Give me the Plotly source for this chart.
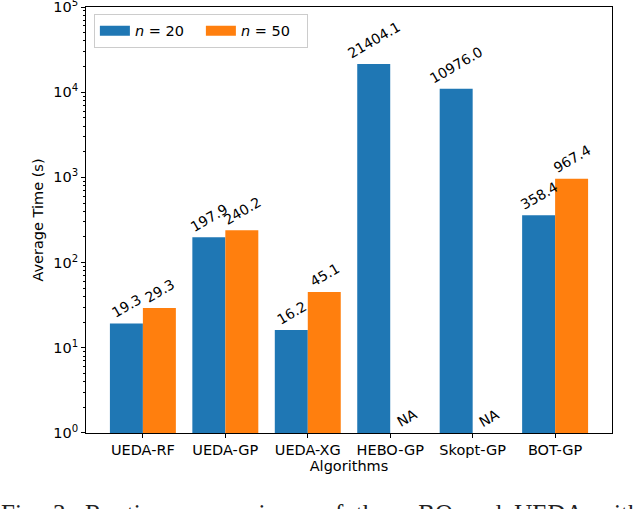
import math
import plotly.graph_objects as go

categories = ["UEDA-RF", "UEDA-GP", "UEDA-XG", "HEBO-GP", "Skopt-GP", "BOT-GP"]
n20 = [19.3, 197.9, 16.2, 21404.1, 10976.0, 358.4]
n50 = [29.3, 240.2, 45.1, None, None, 967.4]
series_names = ["<i>n</i> = 20", "<i>n</i> = 50"]
colors = ["#1f77b4", "#ff7f0e"]
ytick_vals = [1, 10, 100, 1000, 10000, 100000]
ytick_text = ["10<sup>%d</sup>" % i for i in range(6)]
caption_words = ["Fig.", "3:", "Runtime", "comparisons", "of", "three", "BO", "and", "UEDA", "with"]

FONT = "DejaVu Sans"
FS = 14.5
W = 0.4
xs = list(range(len(categories)))

fig = go.Figure()
for vals, name, col, off in [(n20, series_names[0], colors[0], -W / 2),
                             (n50, series_names[1], colors[1], W / 2)]:
    fig.add_trace(go.Bar(
        x=[x + off for x in xs], y=vals, width=W, name=name, showlegend=False,
        marker=dict(color=col, line=dict(width=0)),
    ))
# legend entries drawn as wide swatches
for name, col in zip(series_names, colors):
    fig.add_trace(go.Scatter(
        x=[None], y=[None], mode="lines", name=name,
        line=dict(color=col, width=11),
    ))

annotations = []
for vals, off in [(n20, -W / 2), (n50, W / 2)]:
    for x, v in zip(xs, vals):
        if v is None:
            txt, yy = "NA", 0.0
        else:
            txt, yy = "%.1f" % v, math.log10(v)
        annotations.append(dict(
            x=x + off, y=yy, xref="x", yref="y", text=txt, showarrow=False,
            textangle=-30, xanchor="center", yanchor="bottom",
            font=dict(family=FONT, size=14, color="black"),
        ))

annotations.append(dict(
    xref="paper", yref="paper", x=-0.165, y=-0.153, xanchor="left", yanchor="top",
    text="&nbsp;&nbsp;".join(caption_words), showarrow=False,
    font=dict(family="Liberation Serif", size=25, color="#222"),
))

fig.update_layout(
    width=640, height=509,
    margin=dict(l=86, r=28, t=7, b=76, autoexpand=False),
    paper_bgcolor="white", plot_bgcolor="white",
    font=dict(family=FONT, size=FS, color="black"),
    barmode="overlay",
    showlegend=True,
    legend=dict(orientation="h", x=0.015, y=0.984, xanchor="left", yanchor="top",
                bordercolor="#cccccc", borderwidth=1, bgcolor="rgba(255,255,255,0.8)",
                font=dict(family=FONT, size=FS), itemwidth=30,
                entrywidthmode="pixels", entrywidth=61,
                tracegroupgap=0),
    xaxis=dict(range=[-0.69, 5.69], tickvals=xs, ticktext=categories, automargin=False,
               ticks="outside", ticklen=4, tickcolor="black", showgrid=False,
               zeroline=False, showline=True, linecolor="black", linewidth=1, mirror=True,
               tickfont=dict(family=FONT, size=FS),
               title=dict(text="Algorithms", font=dict(family=FONT, size=FS), standoff=2)),
    yaxis=dict(type="log", range=[-0.0002, 5.0002], tickvals=ytick_vals, ticktext=ytick_text,
               automargin=False, ticklabeloverflow="allow",
               ticks="outside", ticklen=4, tickcolor="black", showgrid=False,
               zeroline=False, showline=True, linecolor="black", linewidth=1, mirror=True,
               tickfont=dict(family=FONT, size=FS),
               minor=dict(ticks="outside", ticklen=2, tickcolor="black", dtick="D1", showgrid=False),
               title=dict(text="Average Time (s)", font=dict(family=FONT, size=FS), standoff=6)),
    annotations=annotations,
)

fig.write_html("out.html", config={"displayModeBar": False},
               post_script="document.body.style.margin='0px';")
